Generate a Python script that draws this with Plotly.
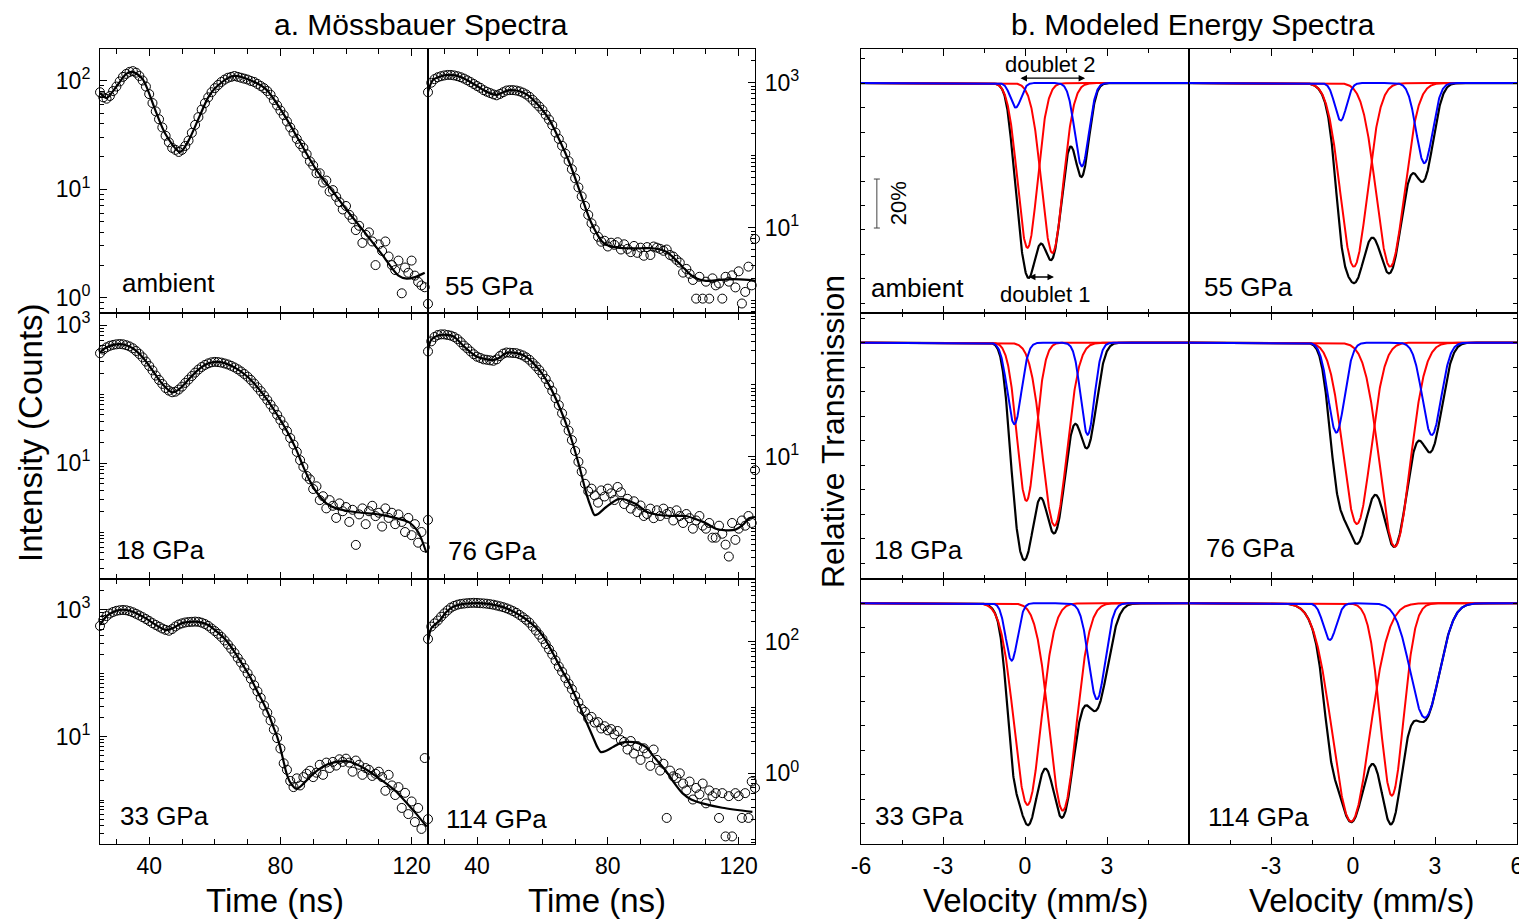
import math
import numpy as np
import plotly.graph_objects as go

W, H = 1527, 919
OFF = 8                      # page body margin of the html page
FW, FH = W - OFF, H - OFF    # figure size so that it fills the window exactly
FONT = "Liberation Sans, Arial, Helvetica, sans-serif"

# ---------------- DATA: time-domain spectra (counts at 1 ns steps) ----------------
T_DATA = list(range(25, 126))

AMBIENT_COUNTS = [78, 70, 68, 72, 80, 88, 98, 108, 115, 120,
                  122, 118, 110, 100, 88, 75, 62, 52, 44, 37,
                  31, 27, 24, 23, 22, 23, 25, 28, 33, 39,
                  46, 54, 62, 70, 78, 85, 91, 97, 102, 106,
                  108, 110, 108, 106, 104, 102, 99, 97, 93, 89,
                  85, 80, 74, 66, 59, 53, 48, 42, 37, 33,
                  29, 26, 24, 21, 18, 16.5, 14, 14, 11.5, 12,
                  9.5, 9.8, 8.5, 7.6, 6.5, 7.0, 5.8, 5.3, 4.2, 4.6,
                  3.2, 3.8, 4.0, 3.3, 2.0, 3.1, 2.7, 3.3, 2.4, 2.0,
                  1.8, 2.2, 1.1, 1.9, 1.7, 2.2, 1.6, 1.4, 1.3, 1.25,
                  0.88]
AMBIENT_FIT_T = [25, 27, 30, 33, 35, 38, 42, 45, 49.4, 52, 55.5, 58, 60.6, 65.6, 71.7,
                 75.8, 80.8, 86, 91, 96, 101, 106, 111, 116, 118.5, 121, 124]
AMBIENT_FIT_V = [77, 69, 88, 115, 120, 103, 52, 32, 22, 28, 48, 70, 88, 110, 98,
                 82, 50, 27, 15, 9.5, 6, 3.9, 2.5, 1.6, 1.5, 1.55, 1.7]

P55_COUNTS = [740, 1000, 1120, 1190, 1230, 1260, 1280, 1280, 1260, 1230,
              1190, 1140, 1080, 1020, 960, 900, 850, 790, 750, 720,
              690, 670, 700, 740, 780, 790, 790, 780, 760, 730,
              690, 640, 580, 520, 470, 420, 360, 310, 260, 205,
              168, 135, 105, 83, 64, 48, 36, 27, 20, 15,
              11.5, 9.5, 7.5, 6.4, 6.6, 5.5, 6.2, 5.8, 6.3, 5.0,
              5.9, 5.1, 4.6, 5.6, 4.5, 5.3, 4.1, 5.4, 4.2, 5.5,
              5.3, 5.1, 4.8, 5.0, 4.2, 4.0, 3.6, 3.3, 2.4, 2.7,
              2.3, 1.9, 1.05, 2.1, 1.05, 1.8, 1.05, 2.0, 1.6, 1.7,
              1.05, 2.1, 1.8, 2.2, 1.5, 2.5, 0.9, 1.3, 2.9, 1.6,
              7.0]
P55_FIT_T = [25, 26.5, 29, 31.7, 35, 37.8, 40, 42.9, 46, 48, 50, 52, 54, 56, 58.2, 60,
             62.2, 65.2, 68.3, 71.3, 73.4, 75, 76.5, 78, 79.5, 82, 85.6, 90, 93.6, 97.7,
             100, 102.8, 105, 106.9, 110, 114, 118, 123, 125]
P55_FIT_V = [750, 1090, 1230, 1280, 1200, 1030, 900, 750, 680, 740, 790, 780, 730, 650, 520, 420,
             305, 162, 78, 33, 17.5, 11.5, 8.5, 6.6, 5.8, 5.4, 5.2, 5.2, 5.2, 4.7,
             3.9, 2.9, 2.3, 2.0, 1.85, 1.9, 1.95, 1.9, 1.85]

P18_COUNTS = [390, 440, 475, 500, 515, 525, 530, 525, 510, 490,
              460, 420, 380, 340, 295, 255, 220, 185, 160, 140,
              122, 112, 106, 108, 116, 128, 145, 162, 182, 204,
              226, 246, 264, 278, 288, 292, 290, 285, 277, 268,
              256, 243, 228, 212, 195, 178, 160, 142, 125, 110,
              95, 82, 70, 60, 50, 42, 35, 29, 23, 18.5,
              14.5, 11, 8.8, 6.5, 5.8, 4.2, 4.6, 2.9, 3.3, 2.2,
              2.9, 2.4, 1.6, 2.6, 2.0, 2.3, 1.4, 2.1, 0.65, 1.8,
              2.2, 1.3, 2.0, 2.4, 1.7, 1.9, 1.2, 2.2, 1.6, 1.9,
              1.3, 1.8, 1.4, 1.0, 1.6, 0.9, 1.3, 0.7, 1.0, 0.6,
              1.5]
P18_FIT_T = [25, 26.5, 29, 31, 33, 35, 38, 41, 44, 47, 49, 52, 55, 58, 60.5, 63, 66, 70,
             73, 76, 79, 82, 84.5, 87, 89, 91, 94, 97, 101, 105, 110, 115, 119, 122, 124.5]
P18_FIT_V = [400, 460, 515, 530, 510, 460, 340, 220, 140, 106, 116, 162, 226, 278, 292, 280, 243, 178,
             125, 82, 50, 29, 17, 8.8, 5.5, 3.8, 2.6, 2.2, 2.0, 1.9, 1.8, 1.6, 1.4, 1.0, 0.5]

P76_COUNTS = [290, 400, 460, 490, 500, 500, 490, 480, 460, 430,
              390, 350, 320, 290, 265, 245, 235, 225, 222, 218,
              215, 225, 250, 270, 280, 278, 276, 274, 265, 255,
              240, 222, 200, 180, 160, 140, 120, 100, 82, 65,
              52, 40, 30, 23, 17, 12, 8.5, 6.2, 4.2, 3.3,
              3.6, 2.9, 2.3, 3.4, 2.8, 3.6, 3.1, 2.5, 3.8, 3.2,
              2.2, 2.6, 1.9, 2.4, 1.7, 2.1, 1.5, 1.6, 1.9, 1.4,
              1.8, 1.5, 1.9, 1.6, 1.7, 1.3, 1.8, 1.5, 1.2, 1.6,
              1.4, 1.0, 1.3, 1.5, 1.1, 1.0, 1.2, 0.75, 0.75, 1.1,
              0.85, 0.6, 0.41, 1.2, 0.7, 1.0, 1.3, 1.1, 1.5, 1.2,
              6.5]
P76_FIT_T = [25, 26, 28.7, 32.7, 36, 40, 45, 47, 49, 52, 54, 56, 58.2, 60, 62.3, 65.2, 68.3,
             71.3, 73.4, 75, 75.9, 77, 79.5, 83.5, 88.6, 92, 95.7, 100, 103.9, 107, 110,
             113, 116.1, 119, 121, 123.2, 125]
P76_FIT_V = [300, 420, 490, 470, 340, 245, 220, 240, 277, 275, 258, 225, 178, 140, 94, 49, 21,
             7.3, 3.1, 1.9, 1.55, 1.6, 2.0, 2.6, 2.2, 1.7, 1.55, 1.5, 1.5, 1.35, 1.19,
             1.0, 0.95, 0.97, 1.1, 1.4, 1.45]

P33_COUNTS = [560, 700, 800, 880, 930, 970, 990, 1000, 990, 960,
              920, 870, 820, 770, 720, 670, 620, 580, 545, 510,
              485, 470, 500, 550, 590, 615, 635, 645, 650, 655,
              650, 630, 600, 560, 510, 465, 420, 375, 330, 285,
              245, 210, 175, 148, 122, 100, 82, 65, 52, 41,
              31, 24, 18, 13, 9.5, 6.5, 3.8, 3.0, 2.0, 1.6,
              2.2, 1.7, 2.3, 2.6, 2.9, 2.3, 2.7, 3.6, 2.5, 3.9,
              3.2, 4.0, 3.5, 4.4, 4.0, 4.5, 3.9, 2.8, 4.2, 3.6,
              2.5, 3.2, 3.0, 2.4, 2.6, 2.8, 2.3, 1.4, 2.5, 1.7,
              1.2, 1.6, 0.75, 1.3, 0.6, 0.95, 0.45, 0.75, 0.35, 4.6,
              0.5]
P33_FIT_T = [25, 27, 29, 31, 33, 35, 38, 40, 43, 45.3, 47.3, 50, 52.4, 55, 58, 60.6, 63, 65.6,
             68, 70.7, 72.7, 74.8, 76.5, 77.8, 79, 79.9, 81, 81.9, 83, 84.9, 86.5, 89, 91.5,
             94.1, 97, 100.2, 103, 106.3, 109, 112.4, 115, 118.5, 121.5, 124.6]
P33_FIT_V = [580, 800, 930, 1000, 1000, 940, 790, 680, 540, 480, 520, 620, 650, 650, 580, 455, 350, 234,
             150, 89, 55, 34, 22, 14.5, 10, 6.9, 4.0, 2.6, 1.9, 1.5, 1.7, 2.3, 3.0,
             3.6, 4.0, 4.1, 3.7, 3.0, 2.4, 1.8, 1.4, 0.9, 0.6, 0.38]

P114_COUNTS = [110, 170, 190, 210, 240, 270, 300, 330, 350, 365,
               375, 380, 385, 388, 390, 388, 385, 382, 378, 372,
               365, 355, 345, 335, 322, 308, 292, 275, 255, 235,
               215, 195, 170, 148, 128, 110, 92, 77, 64, 52,
               42, 35, 28, 23, 19, 15, 12, 9.5, 8.6, 6.8,
               7.2, 5.9, 6.0, 4.8, 5.2, 4.5, 4.7, 3.9, 4.4, 3.2,
               3.0, 2.3, 3.1, 2.0, 2.6, 1.6, 2.4, 2.0, 1.3, 2.3,
               1.6, 1.1, 1.4, 0.21, 1.1, 0.9, 0.85, 1.0, 0.7, 0.55,
               0.75, 0.4, 0.6, 0.48, 0.7, 0.35, 0.55, 0.45, 0.5, 0.21,
               0.5, 0.11, 0.45, 0.11, 0.5, 0.45, 0.21, 0.5, 0.21, 0.75,
               0.6]
P114_FIT_T = [25.1, 26, 28.7, 30.5, 32.7, 35, 37.8, 43, 48, 53, 55.5, 58.2, 60.5, 63.2, 65.8,
              68.3, 70.3, 72.3, 74, 75.4, 76.8, 77.9, 79.5, 81.5, 84, 86.6, 89, 91.7, 94, 97.7,
              100, 102.8, 105.5, 108.9, 115, 124.2]
P114_FIT_V = [106, 160, 214, 280, 340, 370, 383, 380, 335, 255, 210, 160, 115, 67, 38,
              23, 14, 8.2, 5.2, 3.6, 2.5, 2.1, 2.2, 2.5, 2.9, 3.0, 2.9, 2.5, 1.8, 1.1,
              0.75, 0.5, 0.4, 0.35, 0.3, 0.26]

PANEL_LABELS = ["ambient", "55 GPa", "18 GPa", "76 GPa", "33 GPa", "114 GPa"]
TIME_TICKS = [40, 80, 120]
VEL_TICKS_LEFT = [-6, -3, 0, 3]
VEL_TICKS_RIGHT = [-3, 0, 3, 6]

# ---------------- DATA: modeled energy spectra (center mm/s, depth, FWHM mm/s) ----------------
# red = doublet 1 lines, blue = doublet 2 lines, black = total spectrum
E_AMBIENT_RED = [(0.09, 0.673, 0.85), (1.00, 0.694, 0.92)]
E_AMBIENT_BLUE = [(-0.34, 0.10, 0.45), (2.08, 0.34, 0.60)]
E_AMBIENT_BLACK = [(0.09, 0.744, 0.82), (1.00, 0.694, 0.90), (-0.34, 0.10, 0.45), (2.08, 0.37, 0.62)]
E_55_RED = [(0.03, 0.75, 1.15), (1.36, 0.75, 1.20)]
E_55_BLUE = [(-0.45, 0.153, 0.50), (2.61, 0.327, 0.70)]
E_55_BLACK = [(0.03, 0.78, 1.15), (1.36, 0.756, 1.20), (-0.45, 0.153, 0.50), (2.61, 0.36, 0.80)]
E_18_RED = [(0.05, 0.646, 0.80), (1.08, 0.747, 1.05)]
E_18_BLUE = [(-0.39, 0.333, 0.60), (2.29, 0.376, 0.58)]
E_18_BLACK = [(0.05, 0.75, 0.80), (1.08, 0.77, 1.05), (-0.39, 0.333, 0.60), (2.29, 0.41, 0.75)]
E_76_RED = [(0.14, 0.74, 1.19), (1.53, 0.833, 1.30)]
E_76_BLUE = [(-0.61, 0.367, 0.70), (2.88, 0.377, 0.80)]
E_76_BLACK = [(0.14, 0.78, 1.13), (1.53, 0.82, 1.25), (-0.61, 0.367, 0.70), (2.88, 0.41, 0.90)]
E_33_RED = [(0.09, 0.823, 1.15), (1.38, 0.846, 1.15)]
E_33_BLUE = [(-0.49, 0.234, 0.50), (2.63, 0.392, 0.70)]
E_33_BLACK = [(0.09, 0.88, 1.107), (1.38, 0.85, 1.107), (-0.49, 0.234, 0.50), (2.63, 0.41, 0.95)]
E_114_RED = [(-0.07, 0.891, 1.60), (1.42, 0.785, 1.00)]
E_114_BLUE = [(-0.85, 0.15, 0.55), (2.63, 0.467, 1.25)]
E_114_BLACK = [(-0.07, 0.891, 1.60), (1.42, 0.785, 1.00), (-0.85, 0.15, 0.55), (2.63, 0.467, 1.25)]

# ---------------- geometry / styles (window pixels) ----------------
COLS = [(100, 428), (428, 755), (861, 1189), (1189, 1517)]
ROWS = [(49, 313), (313, 579), (579, 844)]
LOG_RANGES = [(-0.14, 2.29), (-0.177, 3.465), (-0.681, 3.174),
              (-0.699, 2.996), (-0.694, 3.489), (-1.074, 2.953)]
LOG_LABELED = [[0, 1, 2], [1, 3], [1, 3], [1], [1, 3], [0, 2]]
E_YRANGES = [(0.061, 1.139), (0.0355, 1.121), (0.0176, 1.099)]


def fx(px):
    return (px - OFF) / FW


def fy(py):
    return 1 - (py - OFF) / FH


def ref(kind, n):
    return kind if n == 1 else f"{kind}{n}"


def axkey(kind, n):
    return f"{kind}axis" if n == 1 else f"{kind}axis{n}"


def peak(v, c, d, w):
    return d * np.exp(-4 * math.log(2) * (v - c) ** 2 / w ** 2)


fig = go.Figure()
layout = {}
tickfont = dict(size=23, color="black", family=FONT)
common = dict(showline=True, linecolor="black", linewidth=1.1, showgrid=False, zeroline=False,
              automargin=False, tickcolor="black", tickwidth=1.1, ticklabeloverflow="allow")

time_sets = [
    (AMBIENT_COUNTS, AMBIENT_FIT_T, AMBIENT_FIT_V),
    (P55_COUNTS, P55_FIT_T, P55_FIT_V),
    (P18_COUNTS, P18_FIT_T, P18_FIT_V),
    (P76_COUNTS, P76_FIT_T, P76_FIT_V),
    (P33_COUNTS, P33_FIT_T, P33_FIT_V),
    (P114_COUNTS, P114_FIT_T, P114_FIT_V),
]

for i, (counts, ft, fv) in enumerate(time_sets):
    n = i + 1
    r, c = divmod(i, 2)
    x0, x1 = COLS[c]
    y0, y1 = ROWS[r]
    fig.add_trace(go.Scatter(x=T_DATA, y=counts, mode="markers", xaxis=ref("x", n), yaxis=ref("y", n),
                             marker=dict(symbol="circle-open", size=9, color="black", line=dict(width=1)),
                             cliponaxis=False, showlegend=False, hoverinfo="skip"))
    fig.add_trace(go.Scatter(x=ft, y=fv, mode="lines", xaxis=ref("x", n), yaxis=ref("y", n),
                             line=dict(color="black", width=2.2, shape="spline", smoothing=0.8),
                             showlegend=False, hoverinfo="skip"))
    layout[axkey("x", n)] = dict(
        domain=[fx(x0), fx(x1)], range=[25, 125], anchor=ref("y", n), mirror="ticks",
        ticks="inside", ticklen=7, tickvals=TIME_TICKS, ticktext=[str(t) for t in TIME_TICKS],
        showticklabels=(r == 2), tickfont=tickfont, ticklabelstandoff=1,
        minor=dict(ticks="inside", ticklen=5, tickvals=[30, 50, 60, 70, 90, 100, 110], tickcolor="black"),
        **common)
    lo, hi = LOG_RANGES[i]
    majors = [10.0 ** k for k in LOG_LABELED[i]]
    texts = [f"10<sup>{k}</sup>" for k in LOG_LABELED[i]]
    minors = []
    for k in range(math.floor(lo), math.ceil(hi) + 1):
        for m in range(1, 10):
            if m == 1 and k in LOG_LABELED[i]:
                continue
            val = m * 10.0 ** k
            if lo <= math.log10(val) <= hi:
                minors.append(val)
    layout[axkey("y", n)] = dict(
        domain=[fy(y1), fy(y0)], type="log", range=[lo, hi], anchor=ref("x", n),
        side="left" if c == 0 else "right", mirror=True,
        ticks="inside", ticklen=7,
        tickvals=majors, ticktext=texts, tickfont=tickfont, ticklabelstandoff=4,
        minor=dict(ticks="inside", ticklen=4, tickvals=minors, tickcolor="black"),
        **common)

energy_sets = [
    (E_AMBIENT_RED, E_AMBIENT_BLUE, E_AMBIENT_BLACK), (E_55_RED, E_55_BLUE, E_55_BLACK),
    (E_18_RED, E_18_BLUE, E_18_BLACK), (E_76_RED, E_76_BLUE, E_76_BLACK),
    (E_33_RED, E_33_BLUE, E_33_BLACK), (E_114_RED, E_114_BLUE, E_114_BLACK),
]
V = np.linspace(-6, 6, 1201)

for j, (reds, blues, blacks) in enumerate(energy_sets):
    n = 7 + j
    r, c = divmod(j, 2)
    x0, x1 = COLS[2 + c]
    y0, y1 = ROWS[r]
    red_abs = [peak(V, *p) for p in reds]
    blue_abs = sum(peak(V, *p) for p in blues)
    total = 1 - sum(peak(V, *p) for p in blacks)
    kw = dict(xaxis=ref("x", n), yaxis=ref("y", n), mode="lines", showlegend=False, hoverinfo="skip")
    fig.add_trace(go.Scatter(x=V, y=total, line=dict(color="black", width=2.2), **kw))
    for a in red_abs:
        fig.add_trace(go.Scatter(x=V, y=1 - a, line=dict(color="#ff0000", width=2), **kw))
    fig.add_trace(go.Scatter(x=V, y=1 - blue_abs, line=dict(color="#0000ff", width=2), **kw))
    tv = VEL_TICKS_LEFT if c == 0 else VEL_TICKS_RIGHT
    layout[axkey("x", n)] = dict(
        domain=[fx(x0), fx(x1)], range=[-6, 6], anchor=ref("y", n), mirror="ticks",
        ticks="inside", ticklen=7, tickvals=tv, ticktext=[str(t) for t in tv],
        showticklabels=(r == 2), tickfont=tickfont, ticklabelstandoff=1,
        minor=dict(ticks="inside", ticklen=4, tickvals=[-4.5, -1.5, 1.5, 4.5], tickcolor="black"),
        **common)
    ylo, yhi = E_YRANGES[r]
    layout[axkey("y", n)] = dict(
        domain=[fy(y1), fy(y0)], range=[ylo, yhi], anchor=ref("x", n),
        side="left" if c == 0 else "right", mirror=True,
        ticks="inside", ticklen=4,
        tickvals=[round(0.1 * k, 1) for k in range(0, 12)], showticklabels=False,
        **common)


def ann(text, px, py, size, xanchor="center", yanchor="middle", angle=0):
    return dict(text=text, x=fx(px), y=fy(py), xref="paper", yref="paper", showarrow=False,
                xanchor=xanchor, yanchor=yanchor, textangle=angle,
                font=dict(size=size, color="black", family=FONT))


annotations = [
    ann("a. Mössbauer Spectra", 421, 24.5, 30),
    ann("b. Modeled Energy Spectra", 1193, 24.5, 30),
    ann("Intensity (Counts)", 30, 433, 33, angle=-90),
    ann("Relative Transmission", 833, 432, 32, angle=-90),
    ann("Time (ns)", 275, 900, 33),
    ann("Time (ns)", 597, 900, 33),
    ann("Velocity (mm/s)", 1036, 900, 33),
    ann("Velocity (mm/s)", 1362, 900, 33),
]
label_pos = [(120, 283), (443, 286), (114, 550), (446, 551), (118, 816), (444, 819),
             (869, 288), (1202, 287), (872, 550), (1204, 548), (873, 816), (1206, 817)]
for k, (lx, ly) in enumerate(label_pos):
    annotations.append(ann(PANEL_LABELS[k % 6], lx, ly, 26, xanchor="left"))

# doublet labels and arrows in the ambient energy panel (axis 7)
annotations.append(dict(text="doublet 2", x=0.93, y=1.075, xref="x7", yref="y7", showarrow=False,
                        font=dict(size=22, color="black", family=FONT)))
annotations.append(dict(text="doublet 1", x=0.75, y=0.136, xref="x7", yref="y7", showarrow=False,
                        font=dict(size=22, color="black", family=FONT)))
annotations.append(dict(text="", x=2.2, y=1.02, ax=-0.22, ay=1.02, xref="x7", yref="y7",
                        axref="x7", ayref="y7", showarrow=True, arrowhead=2, arrowside="end+start",
                        arrowsize=1, arrowwidth=1.3, arrowcolor="black"))
annotations.append(dict(text="", x=1.06, y=0.208, ax=0.09, ay=0.208, xref="x7", yref="y7",
                        axref="x7", ayref="y7", showarrow=True, arrowhead=2, arrowside="end+start",
                        arrowsize=1, arrowwidth=1.3, arrowcolor="black"))
annotations.append(dict(text="20%", x=-4.62, y=0.508, xref="x7", yref="y7", showarrow=False,
                        textangle=-90, font=dict(size=22, color="black", family=FONT)))

shapes = [
    dict(type="line", xref="x7", yref="y7", x0=-5.42, x1=-5.42, y0=0.408, y1=0.608,
         line=dict(color="#444", width=1)),
    dict(type="line", xref="x7", yref="y7", x0=-5.53, x1=-5.31, y0=0.408, y1=0.408,
         line=dict(color="#444", width=1)),
    dict(type="line", xref="x7", yref="y7", x0=-5.53, x1=-5.31, y0=0.608, y1=0.608,
         line=dict(color="#444", width=1)),
]

fig.update_layout(
    width=FW, height=FH, margin=dict(l=0, r=0, t=0, b=0, autoexpand=False),
    paper_bgcolor="white", plot_bgcolor="white",
    font=dict(family=FONT, color="black"),
    annotations=annotations, shapes=shapes, showlegend=False,
    **layout,
)

fig.write_html("out.html")
